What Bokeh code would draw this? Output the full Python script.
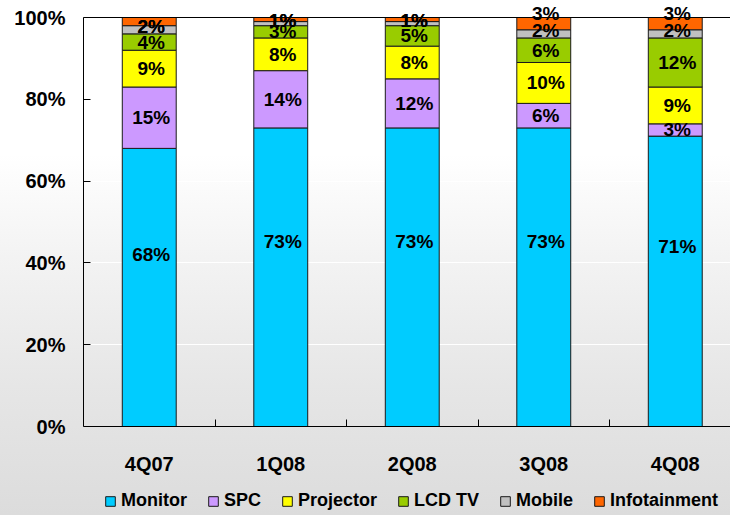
from bokeh.plotting import figure
from bokeh.models import ColumnDataSource, Range1d, FixedTicker, PrintfTickFormatter, Span
from bokeh.core.properties import value
from bokeh.embed import file_html
from bokeh.resources import INLINE

quarters = ["4Q07", "1Q08", "2Q08", "3Q08", "4Q08"]
series = ["Monitor", "SPC", "Projector", "LCD TV", "Mobile", "Infotainment"]
monitor = [68, 73, 73, 73, 71]
spc = [15, 14, 12, 6, 3]
projector = [9, 8, 8, 10, 9]
lcd_tv = [4, 3, 5, 6, 12]
mobile = [2, 1, 1, 2, 2]
infotainment = [2, 1, 1, 3, 3]
colors = ["#00CCFF", "#CC99FF", "#FFFF00", "#99CC00", "#C0C0C0", "#FF6600"]
y_ticks = [0, 20, 40, 60, 80, 100]

values = [monitor, spc, projector, lcd_tv, mobile, infotainment]
xs = [i + 1 for i in range(len(quarters))]
data = {"x": xs}
for name, vals in zip(series, values):
    data[name] = vals
source = ColumnDataSource(data)

FONT = "Liberation Sans"
W, H = 730, 515
TOP, AXIS_Y = 17, 426  # pixel rows of the 100% line and of the zero line
px_per_unit = (AXIS_Y - TOP) / 100
y_start = -(H - AXIS_Y) / px_per_unit
y_end = 100 + TOP / px_per_unit

p = figure(width=W, height=H, output_backend="svg", toolbar_location=None,
           x_range=Range1d(0.5, 5.42), y_range=Range1d(y_start, y_end),
           min_border_left=83, min_border_right=0, min_border_top=0, min_border_bottom=0)
p.background_fill_color = None
p.border_fill_color = None
p.outline_line_color = None
p.styles = {"background": "linear-gradient(to bottom, #ffffff 0%, #ffffff 30%, #f3f3f3 50%, #e6e6e6 75%, #dcdcdc 100%)"}

renderers = p.vbar_stack(series, x="x", width=0.41, color=colors, line_color="#1a1a1a",
                         line_width=1, source=source, legend_label=series)

# segment labels (Monitor label sits a little high in its bar, small top labels share a spot)
lx, ly, lt, loff = [], [], [], []
for j in range(len(quarters)):
    base = 0
    mobile_pos = None
    for k, vals in enumerate(values):
        v = vals[j]
        if k == 0:
            pos, off = 0.62 * v, 0
        elif series[k] == "Mobile":
            pos, off = base + v / 2, -3
            mobile_pos = pos
        elif series[k] == "Infotainment":
            if v >= 3:
                pos, off = base + v, -4
            else:
                pos, off = mobile_pos, -3
        else:
            pos, off = base + v / 2, 0
        lx.append(xs[j])
        ly.append(pos)
        lt.append(f"{v}%")
        loff.append(off)
        base += v
lsrc = ColumnDataSource(dict(x=lx, y=ly, text=lt, off=loff))
p.text(x="x", y="y", text="text", y_offset="off", source=lsrc,
       text_align="center", text_baseline="middle",
       text_font=value(FONT), text_font_style="bold", text_font_size="19px",
       text_color="black", x_offset=2)

# top border line
p.add_layout(Span(location=100, dimension="width", line_color="black", line_width=1))

p.xgrid.grid_line_color = None
p.ygrid.grid_line_color = "white"
p.ygrid.ticker = FixedTicker(ticks=y_ticks[1:-1])

xa = p.xaxis[0]
xa.fixed_location = 0
xa.ticker = FixedTicker(ticks=xs, minor_ticks=[x + 0.5 for x in xs[:-1]])
xa.major_label_overrides = {x: q for x, q in zip(xs, quarters)}
xa.major_tick_in = 0
xa.major_tick_out = 0
xa.minor_tick_in = 7
xa.minor_tick_out = 0
xa.minor_tick_line_color = "black"
xa.axis_line_color = "black"
xa.major_label_standoff = 26
xa.major_label_text_font = FONT
xa.major_label_text_font_style = "bold"
xa.major_label_text_font_size = "20px"
xa.major_label_text_color = "black"

ya = p.yaxis[0]
ya.bounds = (0, 100)
ya.ticker = FixedTicker(ticks=y_ticks)
ya.formatter = PrintfTickFormatter(format="%d%%")
ya.major_tick_in = 7
ya.major_tick_out = 0
ya.major_tick_line_color = "black"
ya.minor_tick_line_color = None
ya.axis_line_color = "black"
ya.major_label_standoff = 18
ya.major_label_text_font = FONT
ya.major_label_text_font_style = "bold"
ya.major_label_text_font_size = "20px"
ya.major_label_text_color = "black"

lg = p.legend[0]
lg.orientation = "horizontal"
lg.location = (21, 4)
lg.glyph_width = 12
lg.glyph_height = 12
lg.label_standoff = 5
lg.spacing = 20
lg.padding = 0
lg.margin = 0
lg.border_line_color = None
lg.background_fill_color = None
lg.label_text_font = FONT
lg.label_text_font_style = "bold"
lg.label_text_font_size = "18px"
lg.label_text_color = "black"

open("out.html", "w").write(file_html(p, INLINE))
